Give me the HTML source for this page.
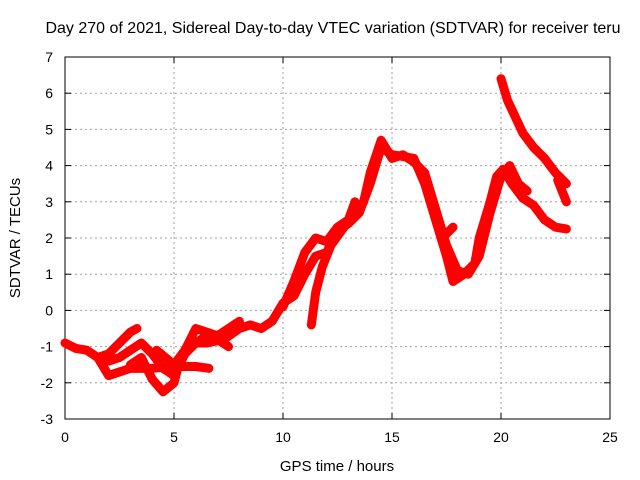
<!DOCTYPE html>
<html><head><meta charset="utf-8"><style>
body{margin:0;background:#fff;}
svg{display:block;font-family:"Liberation Sans",sans-serif;}
</style></head><body>
<svg id="chart" width="640" height="480" viewBox="0 0 640 480">
<text x="333" y="33" font-size="16" text-anchor="middle" fill="#000">Day 270 of 2021, Sidereal Day-to-day VTEC variation (SDTVAR) for receiver teru</text>
<g id="grid"></g>
<g id="axes"></g>
<g id="series"></g>
<text x="337" y="471" font-size="15" text-anchor="middle">GPS time / hours</text>
<text transform="translate(20,238) rotate(-90)" font-size="15" text-anchor="middle">SDTVAR / TECUs</text>
</svg>
<script>
const xTicks=[0,5,10,15,20,25];
const yTicks=[-3,-2,-1,0,1,2,3,4,5,6,7];
const trackA=[[0,-0.9],[0.5,-1.05],[1,-1.1],[1.5,-1.3],[2,-1.8],[2.5,-1.7],[3,-1.6],[3.5,-1.6],[4,-1.6],[5,-1.55],[6,-1.55],[6.6,-1.6]];
const trackB=[[1.5,-1.3],[2,-1.2],[2.5,-0.9],[3,-0.6],[3.3,-0.5]];
const trackC=[[2,-1.4],[2.5,-1.3],[3,-1.1],[3.5,-0.9],[4,-1.2],[4.5,-1.6],[5,-1.8],[5.5,-1.2],[6,-0.9],[6.5,-0.7],[7,-0.8],[7.5,-1.0]];
const trackD=[[3,-1.5],[3.5,-1.3],[4,-1.9],[4.5,-2.25],[5,-2.0],[5.3,-1.3],[5.8,-0.9],[6.5,-0.9],[7.3,-0.8],[8,-0.5],[8.5,-0.4],[9,-0.5],[9.5,-0.3],[10,0.2],[10.5,0.4],[11,1.0],[11.5,1.5],[12,1.6],[12.5,2.2],[13,2.4],[13.5,2.7],[14,3.5],[14.5,4.5],[15,4.3],[16,4.2],[16.5,3.5],[17,2.5],[17.5,1.5],[17.8,0.8],[18.3,1.0],[18.8,1.3],[19,2.0],[19.5,3.0],[19.8,3.7],[20.1,3.9],[20.5,3.5],[21,3.1],[21.5,2.9],[22,2.5],[22.5,2.3],[23,2.25]];
const trackE=[[4.2,-1.1],[5,-1.5],[5.5,-1.1],[6,-0.5],[6.5,-0.6],[7,-0.7],[7.5,-0.5],[8,-0.3]];
const trackF=[[10,0.1],[10.5,0.8],[11,1.6],[11.5,2.0],[12,1.9],[12.5,2.3],[13,2.5],[13.3,3.0]];
const trackG=[[11.3,-0.4],[11.5,0.5],[11.8,1.2],[12.2,1.8],[12.8,2.3]];
const trackH=[[13.7,3.0],[14,3.8],[14.5,4.7],[15,4.2],[15.5,4.3],[16,4.1],[16.5,3.8],[17,2.8],[17.5,1.8],[18,1.1],[18.5,1.0],[19,1.5],[19.5,2.7],[20,3.7],[20.4,4.0],[20.8,3.5],[21.2,3.3]];
const trackI=[[17.3,2.0],[17.8,2.3]];
const trackJ=[[20,6.4],[20.3,5.8],[21,4.9],[21.5,4.5],[22,4.2],[22.5,3.8],[23,3.5]];
const trackK=[[22.6,3.6],[23,3.0]];
const tracks=[trackA,trackB,trackC,trackD,trackE,trackF,trackG,trackH,trackI,trackJ,trackK];
const X0=65,X1=610,Y0=419,Y1=57;
const sx=v=>X0+(v-0)/(25-0)*(X1-X0);
const sy=v=>Y0-(v+3)/(10)*(Y0-Y1);
const NS="http://www.w3.org/2000/svg";
const grid=document.getElementById('grid'),axes=document.getElementById('axes'),series=document.getElementById('series');
function mk(tag,attrs,parent){const e=document.createElementNS(NS,tag);for(const k in attrs)e.setAttribute(k,attrs[k]);parent.appendChild(e);return e;}
xTicks.forEach(t=>{const x=sx(t);
 if(t>0&&t<25){const l=mk('line',{x1:x,x2:x,y1:Y1,y2:Y0,stroke:'#a0a0a0','stroke-dasharray':'2,3'},grid);
 
 }
 mk('line',{x1:x,x2:x,y1:Y0,y2:Y0-6,stroke:'#000'},axes);
 mk('line',{x1:x,x2:x,y1:Y1,y2:Y1+6,stroke:'#000'},axes);
 const tx=mk('text',{x:x,y:Y0+23,'font-size':14,'text-anchor':'middle'},axes);tx.textContent=t;
 
 
});
yTicks.forEach(t=>{const y=sy(t);
 if(t>-3&&t<7){const l=mk('line',{x1:X0,x2:X1,y1:y,y2:y,stroke:'#a0a0a0','stroke-dasharray':'2,3'},grid);
 
 }
 mk('line',{x1:X0,x2:X0+6,y1:y,y2:y,stroke:'#000'},axes);
 mk('line',{x1:X1,x2:X1-6,y1:y,y2:y,stroke:'#000'},axes);
 const tx=mk('text',{x:X0-12,y:y+5,'font-size':14,'text-anchor':'end'},axes);tx.textContent=t;
 
 
});
mk('rect',{x:X0,y:Y1,width:X1-X0,height:Y0-Y1,fill:'none',stroke:'#000'},axes);
tracks.forEach((tr,i)=>{
 const p=mk('polyline',{points:tr.map(d=>sx(d[0])+','+sy(d[1])).join(' '),fill:'none',stroke:'#ff0000','stroke-width':9,'stroke-linejoin':'round','stroke-linecap':'round'},series);
 
 
});
</script>
</body></html>
